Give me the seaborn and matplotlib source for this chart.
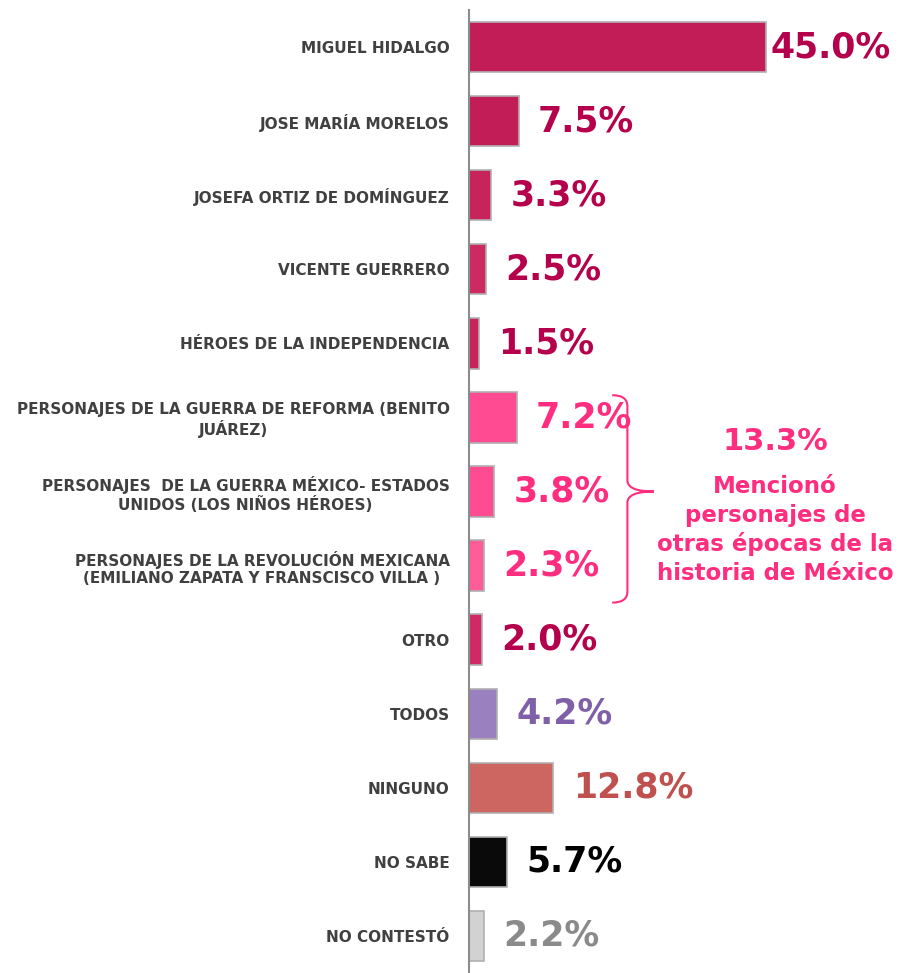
import matplotlib
matplotlib.use("Agg")
import matplotlib.pyplot as plt
import seaborn as sns
import pandas as pd
from matplotlib.path import Path
from matplotlib.patches import PathPatch

# Data
categories = [
    "MIGUEL HIDALGO",
    "JOSE MARÍA MORELOS",
    "JOSEFA ORTIZ DE DOMÍNGUEZ",
    "VICENTE GUERRERO",
    "HÉROES DE LA INDEPENDENCIA",
    "PERSONAJES DE LA GUERRA DE REFORMA (BENITO\nJUÁREZ)",
    "PERSONAJES  DE LA GUERRA MÉXICO- ESTADOS\nUNIDOS (LOS NIÑOS HÉROES)",
    "PERSONAJES DE LA REVOLUCIÓN MEXICANA\n(EMILIANO ZAPATA Y FRANSCISCO VILLA )",
    "OTRO",
    "TODOS",
    "NINGUNO",
    "NO SABE",
    "NO CONTESTÓ",
]
values = [45.0, 7.5, 3.3, 2.5, 1.5, 7.2, 3.8, 2.3, 2.0, 4.2, 12.8, 5.7, 2.2]
bar_colors = ["#C21D57", "#C21D57", "#C8245C", "#CC2A62", "#C8245C",
              "#FF4B91", "#FF4B91", "#FF5C9A", "#D02A66",
              "#9A80BE", "#CD6660", "#0A0A0A", "#D2D2D2"]
label_colors = ["#B5004B", "#B5004B", "#B5004B", "#B5004B", "#B5004B",
                "#FF2D7F", "#FF2D7F", "#FF2D7F", "#B5004B",
                "#7F60A8", "#C0504D", "#000000", "#8A8A8A"]
group_total = "13.3%"
group_text = "Mencionó\npersonajes de\notras épocas de la\nhistoria de México"
group_color = "#FF2D7F"

df = pd.DataFrame({"categoria": categories, "valor": values})

sns.set_style("white")
plt.rcParams["font.family"] = ["DejaVu Sans"]

fig = plt.figure(figsize=(8.98, 9.73), dpi=100)
ax = fig.add_axes([469 / 898, 0.0, 429 / 898, 963 / 973])

sns.barplot(data=df, y="categoria", x="valor", hue="categoria", palette=bar_colors,
            legend=False, orient="h", width=0.68, saturation=1,
            edgecolor="#B0B0B0", linewidth=1.2, ax=ax)

ax.set_xlim(0, 65)
ax.set_ylim(len(categories) - 0.5, -0.5)
ax.set_xlabel("")
ax.set_ylabel("")
ax.set_xticks([])

# value labels
for i, (v, c) in enumerate(zip(values, label_colors)):
    off = 3 if i == 0 else 14
    ax.annotate(f"{v:.1f}%", xy=(v, i), xytext=(off, 0), textcoords="offset points",
                va="center", ha="left", fontsize=25, fontweight="bold", color=c)

# category labels
ax.set_yticks(range(len(categories)))
ax.set_yticklabels(categories, fontsize=11, fontweight="bold", color="#404040",
                   multialignment="center")
ax.tick_params(axis="y", which="major", length=0, pad=14)
ax.set_yticks([i - 0.5 for i in range(len(categories) + 1)], minor=True)
ax.tick_params(axis="y", which="minor", length=5, color="#8C8C8C", width=1.2)

for s in ["top", "right", "bottom"]:
    ax.spines[s].set_visible(False)
ax.spines["left"].set_color("#8C8C8C")
ax.spines["left"].set_linewidth(1.5)

# brace around the "otras épocas" group
top, bot = 5 - 0.3, 7 + 0.5
mid = (5 + 7) / 2
x0, xl, xt = 24.0, 21.7, 28.0
verts = [(xl, top), (x0, top), (x0, top + 0.15),
         (x0, mid - 0.15),
         (x0, mid), (xt, mid), (xt, mid),
         (x0, mid), (x0, mid + 0.15),
         (x0, bot - 0.15),
         (x0, bot), (xl, bot), (xl, bot)]
codes = [Path.MOVETO, Path.CURVE3, Path.CURVE3,
         Path.LINETO,
         Path.CURVE3, Path.CURVE3, Path.MOVETO,
         Path.CURVE3, Path.CURVE3,
         Path.LINETO,
         Path.CURVE3, Path.CURVE3, Path.LINETO]
ax.add_patch(PathPatch(Path(verts, codes), fill=False, edgecolor=group_color,
                       linewidth=1.5, clip_on=False))

ax.text(46.4, 5.33, group_total, ha="center", va="center", fontsize=22,
        fontweight="bold", color=group_color)
ax.text(46.4, 6.52, group_text, ha="center", va="center", fontsize=16.5,
        fontweight="bold", color=group_color, linespacing=1.3)

fig.savefig("out.png", dpi=100, facecolor="white")
